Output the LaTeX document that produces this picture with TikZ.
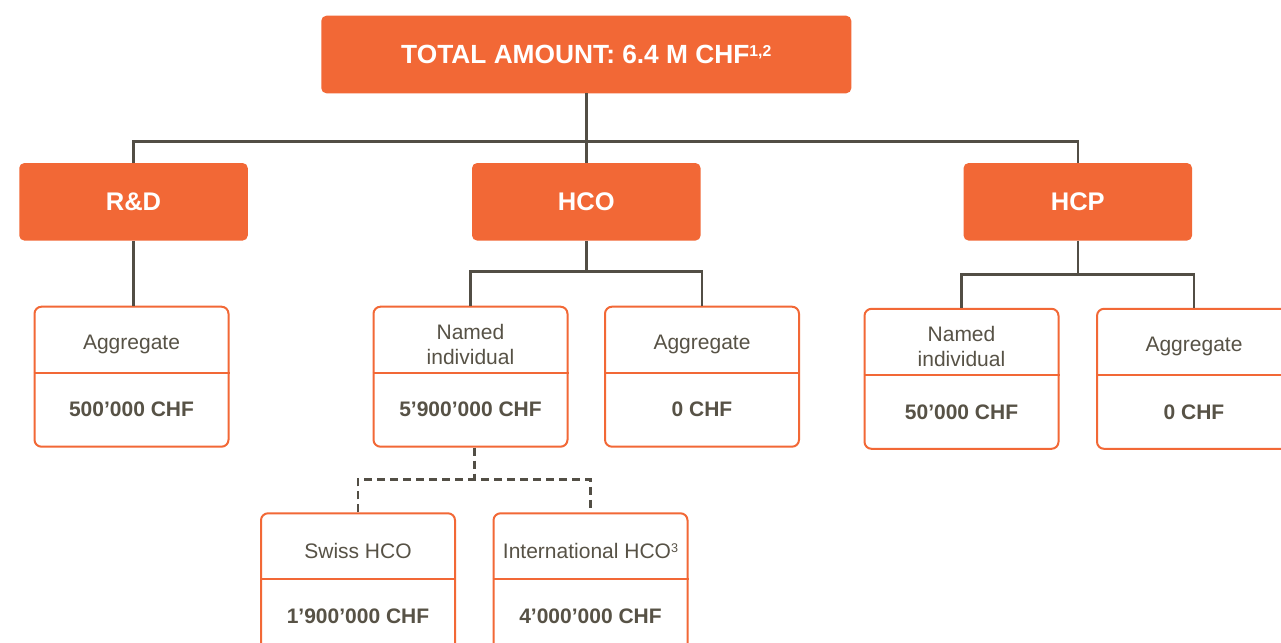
\documentclass[tikz,border=0pt]{standalone}
\usepackage{fontspec}
\setmainfont{Liberation Sans}
\usetikzlibrary{calc}
\definecolor{org}{HTML}{F26836}
\definecolor{txt}{HTML}{575246}
\definecolor{ln}{HTML}{524E45}
\tikzset{
  hdr/.style={fill=org, draw=none, rounded corners=5pt, text=white,
    font=\bfseries\fontsize{25.5}{30}\selectfont, minimum width=228.5pt,
    minimum height=77.5pt, inner sep=0pt},
  cbox/.style={draw=org, line width=2pt, rounded corners=7pt, minimum width=194pt,
    minimum height=140pt, inner sep=0pt, fill=white},
  divl/.style={draw=org, line width=2pt},
  lbl/.style={text=txt, font=\fontsize{21}{25}\selectfont, align=center, inner sep=0pt},
  val/.style={text=txt, font=\bfseries\fontsize{21}{25}\selectfont, inner sep=0pt},
  conn/.style={draw=ln, line width=2.5pt},
  dconn/.style={draw=ln, line width=2.5pt, dash pattern=on 8pt off 5pt}
}
\newcommand{\mysup}[1]{\raisebox{0.55ex}{\fontsize{0.6em}{1em}\selectfont #1}}
\newcommand{\mycard}[5]{%
  \node[cbox] (#1) at (#2,#3) {};
  \draw[divl] ($(#1.north west)+(0,67)$) -- ($(#1.north east)+(0,67)$);
  \node[lbl] (#1-l) at ($(#1.north)+(0,39)$) {#4};
  \node[val] (#1-v) at ($(#1.north)+(0,104)$) {#5};
}
\begin{document}
\begin{tikzpicture}[x=1pt,y=-1pt]
\clip (0,0) rectangle (1281,642);
\fill[white] (0,0) rectangle (1281,642);

% headers
\node[hdr, minimum width=530pt, minimum height=77.5pt, text height=18.6pt, text depth=0pt,
  font=\bfseries\fontsize{26.3}{30}\selectfont] (top) at (586.3,54.5) {TOTAL AMOUNT: 6.4 M CHF\mysup{1,2}};
\node[hdr] (rd) at (133.5,201.8) {R\&D};
\node[hdr] (hco) at (586.3,201.8) {HCO};
\node[hdr] (hcp) at (1077.8,201.8) {HCP};

% cards
\mycard{rdagg}{131.5}{376.7}{Aggregate}{500’000 CHF}
\mycard{hconi}{470.5}{376.7}{Named\\individual}{5’900’000 CHF}
\mycard{hcoagg}{702}{376.7}{Aggregate}{0 CHF}
\mycard{hcpni}{961.5}{378.8}{Named\\individual}{50’000 CHF}
\mycard{hcpagg}{1194}{378.8}{Aggregate}{0 CHF}
\mycard{swiss}{358}{583.3}{Swiss HCO}{1’900’000 CHF}
\mycard{intl}{590.5}{583.3}{International HCO\mysup{3}}{4’000’000 CHF}

% connectors
\coordinate (bus1) at (586.3,141.5);
\draw[conn] (top.south) -- (bus1);
\draw[conn] (rd.north) |- (bus1) -| (hcp.north);
\draw[conn] (bus1) -- (hco.north);
\draw[conn] (rd.south) -- (rd.south |- rdagg.north);

\coordinate (bus2) at (586.3,271.7);
\draw[conn] (hco.south) -- (bus2);
\draw[conn] (hconi.north) |- (bus2) -| (hcoagg.north);

\coordinate (bus3) at (1077.8,274.3);
\draw[conn] (hcp.south) -- (bus3);
\draw[conn] (hcpni.north) |- (bus3) -| (hcpagg.north);

\coordinate (dmid) at (474.3,479.3);
\draw[dconn] (dmid |- hconi.south) -- (dmid);
\draw[dconn] (swiss.north) |- (dmid) -| (intl.north);
\end{tikzpicture}
\end{document}
